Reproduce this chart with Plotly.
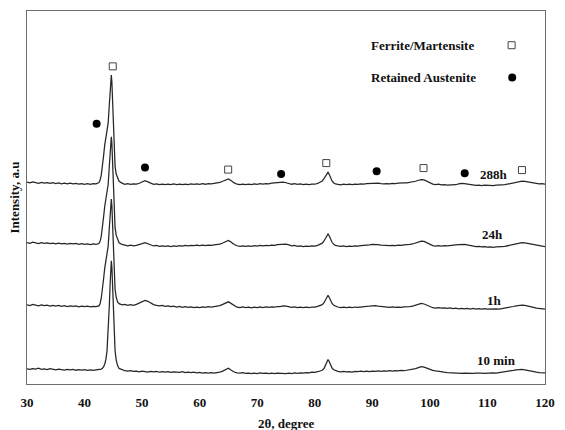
import plotly.graph_objects as go

# 2-theta sampling positions (degrees); denser around the sharp reflections
two_theta = [
    30.0, 30.5, 31.0, 31.5, 32.0, 32.5, 33.0, 33.5, 34.0, 34.5,
    35.0, 35.5, 36.0, 36.5, 37.0, 37.5, 38.0, 38.5, 39.0, 39.5,
    40.0, 40.5, 41.0, 41.5, 42.0, 42.5,
    42.7, 42.9, 43.1, 43.3, 43.5, 43.7, 43.9, 44.1, 44.3, 44.45,
    44.55, 44.65, 44.75, 44.85, 45.0, 45.15, 45.3, 45.5, 45.75,
    46.0, 46.5, 47.0, 47.5, 48.0, 48.5, 49.0, 49.5, 50.0, 50.5,
    51.0, 51.5, 52.0, 52.5, 53.0, 53.5, 54.0, 54.5, 55.0, 55.5,
    56.0, 56.5, 57.0, 57.5, 58.0, 58.5, 59.0, 59.5, 60.0, 60.5,
    61.0, 61.5, 62.0, 62.5, 63.0, 63.5, 64.0, 64.5, 65.0, 65.5,
    66.0, 66.5, 67.0, 67.5, 68.0, 68.5, 69.0, 69.5, 70.0, 70.5,
    71.0, 71.5, 72.0, 72.5, 73.0, 73.5, 74.0, 74.5, 75.0, 75.5,
    76.0, 76.5, 77.0, 77.5, 78.0, 78.5, 79.0, 79.5, 80.0, 80.5,
    81.0,
    81.3, 81.6, 81.9, 82.1, 82.3, 82.5, 82.7, 83.0, 83.3, 83.6,
    84.0, 84.5, 85.0, 85.5, 86.0, 86.5, 87.0, 87.5, 88.0, 88.5,
    89.0, 89.5, 90.0, 90.5, 91.0, 91.5, 92.0, 92.5, 93.0, 93.5,
    94.0, 94.5, 95.0, 95.5, 96.0, 96.5, 97.0, 97.5, 98.0, 98.5,
    99.0, 99.5, 100.0, 100.5, 101.0, 101.5, 102.0, 102.5, 103.0, 103.5,
    104.0, 104.5, 105.0, 105.5, 106.0, 106.5, 107.0, 107.5, 108.0, 108.5,
    109.0, 109.5, 110.0, 110.5, 111.0, 111.5, 112.0, 112.5, 113.0, 113.5,
    114.0, 114.5, 115.0, 115.5, 116.0, 116.5, 117.0, 117.5, 118.0, 118.5,
    119.0, 119.5, 120.0,
]

# Intensity (a.u., patterns stacked with vertical offsets)
int_10min = [
    15.2, 14.6, 15.5, 14.9, 15.8, 14.7, 15.1, 14.4, 15.3, 14.8,
    14.2, 15.0, 14.5, 13.9, 14.7, 14.1, 14.6, 13.8, 14.3, 13.9,
    14.5, 13.7, 14.2, 13.6, 14.1, 14.4,
    14.6, 15.0, 15.8, 17.2, 19.8, 24.5, 33.0, 50.0, 78.0, 101.0,
    115.5, 123.6, 117.0, 99.0, 70.0, 47.0, 33.5, 24.0, 18.2,
    15.6, 14.2, 13.3, 12.9, 13.4, 12.6, 13.0, 12.2, 12.8, 12.4,
    11.9, 12.6, 12.1, 12.7, 11.8, 12.3, 11.9, 12.5, 11.7, 12.2,
    12.0, 11.6, 12.3, 11.5, 11.9, 11.3, 11.8, 11.1, 11.6, 11.0,
    11.4, 10.9, 11.3, 11.0, 11.5, 11.8, 12.9, 14.6, 15.8, 13.8,
    12.0, 11.2, 10.8, 11.3, 10.6, 11.0, 10.4, 10.9, 10.5, 11.1,
    10.6, 10.9, 10.3, 10.8, 10.5, 11.0, 10.6, 10.9, 10.4, 10.8,
    10.5, 11.1, 10.7, 11.2, 10.9, 11.5, 11.2, 11.8, 11.6, 12.3,
    12.9,
    13.8, 15.5, 19.5, 22.8, 24.6, 22.5, 19.4, 16.0, 14.2, 13.2,
    12.6, 12.2, 12.7, 12.1, 12.5, 12.0, 12.6, 12.3, 12.8, 12.4,
    12.9, 12.5, 13.0, 12.6, 13.1, 12.7, 13.2, 12.8, 13.3, 12.9,
    13.4, 13.1, 13.6, 13.3, 13.8, 14.0, 14.6, 15.4, 16.4, 17.3,
    16.9, 15.6, 14.5, 13.6, 13.1, 12.5, 12.2, 11.8, 11.5, 11.2,
    11.0, 10.8, 10.9, 10.6, 10.8, 10.5, 10.9, 10.6, 10.8, 10.5,
    10.9, 10.7, 11.0, 10.8, 11.1, 11.0, 11.4, 11.3, 11.8, 12.2,
    12.9, 13.6, 14.2, 14.7, 14.6, 14.2, 13.5, 12.8, 12.2, 11.8,
    11.5, 11.4, 11.2,
]

int_1h = [
    79.4, 78.6, 79.8, 79.0, 78.3, 79.3, 78.5, 79.1, 78.2, 78.9,
    78.0, 78.7, 77.9, 78.5, 77.6, 78.4, 77.8, 78.3, 77.4, 78.1,
    77.5, 78.0, 77.3, 77.9, 77.6, 78.3,
    80.5, 86.0, 94.0, 105.0, 116.0, 123.0, 128.5, 138.0, 156.0, 172.0,
    181.0, 185.5, 178.5, 161.0, 131.0, 110.0, 95.0, 87.0, 82.0,
    80.6, 79.4, 79.9, 78.8, 79.5, 78.9, 79.8, 80.9, 82.6, 83.8,
    82.9, 81.2, 79.6, 78.9, 78.3, 78.9, 77.8, 78.4, 77.5, 78.1,
    77.2, 77.8, 76.9, 77.6, 76.8, 77.3, 76.5, 77.1, 76.7, 77.3,
    76.8, 77.5, 77.1, 77.6, 77.9, 78.6, 79.8, 81.5, 82.4, 80.6,
    78.4, 77.0, 76.6, 77.2, 76.5, 77.0, 76.4, 77.1, 76.7, 77.2,
    76.6, 77.3, 76.8, 77.4, 77.0, 77.7, 77.6, 78.3, 78.1, 77.4,
    76.9, 77.3, 76.6, 77.1, 76.5, 77.0, 76.6, 77.2, 77.0, 77.8,
    78.6,
    79.6, 81.5, 85.2, 88.0, 89.0, 87.0, 84.0, 80.8, 78.9, 77.8,
    77.2, 76.6, 77.1, 76.5, 77.0, 76.6, 77.2, 76.9, 77.4, 77.3,
    77.9, 78.0, 78.4, 78.5, 78.1, 77.8, 77.2, 77.5, 76.9, 77.3,
    76.8, 77.2, 76.9, 77.4, 77.2, 77.6, 78.0, 78.9, 80.0, 80.8,
    80.2, 78.8, 77.4, 76.5, 76.2, 76.6, 76.0, 76.4, 75.8, 76.2,
    75.6, 76.0, 75.4, 75.9, 75.3, 75.8, 75.2, 75.7, 75.1, 75.6,
    75.0, 75.5, 75.1, 75.4, 75.0, 75.3, 75.2, 75.6, 75.9, 76.4,
    77.0, 77.7, 78.3, 78.8, 79.1, 78.9, 78.4, 77.6, 76.8, 76.1,
    75.6, 75.3, 75.0,
]

int_24h = [
    141.8, 141.1, 142.2, 141.4, 140.8, 141.7, 141.0, 141.6, 140.7, 141.3,
    140.5, 141.2, 140.6, 141.0, 140.2, 140.9, 140.4, 140.9, 140.1, 140.7,
    140.0, 140.6, 139.8, 140.4, 140.1, 140.8,
    143.0, 148.0, 156.0, 167.0, 178.0, 185.0, 190.0, 200.0, 218.0, 234.0,
    243.0, 247.8, 241.0, 223.0, 193.0, 172.0, 157.0, 149.0, 144.0,
    141.6, 139.9, 139.3, 138.6, 139.2, 138.5, 139.0, 139.6, 140.8, 141.8,
    140.6, 139.3, 138.4, 138.9, 138.1, 138.6, 137.9, 138.5, 137.8, 138.4,
    138.0, 138.7, 138.2, 138.9, 138.5, 139.1, 138.7, 139.2, 138.8, 139.3,
    138.7, 139.2, 138.9, 139.4, 139.6, 140.3, 141.4, 143.1, 144.0, 142.2,
    139.9, 138.6, 138.0, 138.6, 137.9, 138.5, 138.0, 138.7, 138.3, 138.9,
    138.5, 139.0, 138.7, 139.3, 139.1, 139.7, 140.0, 140.6, 140.2, 139.4,
    138.6, 138.9, 138.1, 138.5, 137.8, 138.3, 137.9, 138.4, 138.2, 139.0,
    140.0,
    141.2, 143.4, 147.0, 149.6, 150.5, 148.6, 145.6, 142.1, 140.0, 138.9,
    138.4, 137.9, 138.5, 137.8, 138.3, 137.9, 138.4, 138.2, 138.8, 138.9,
    139.4, 139.6, 140.1, 140.2, 139.8, 139.3, 138.9, 139.2, 138.7, 139.1,
    138.8, 139.3, 139.0, 139.5, 139.4, 139.9, 140.4, 141.3, 142.5, 143.3,
    143.0, 141.6, 140.0, 138.8, 138.3, 138.7, 138.2, 138.8, 138.5, 139.0,
    139.1, 139.6, 139.7, 140.1, 140.0, 139.5, 138.9, 138.4, 137.8, 137.9,
    137.4, 137.8, 137.2, 137.6, 137.1, 137.5, 137.3, 137.8, 138.0, 138.6,
    139.2, 139.9, 140.6, 141.2, 141.7, 141.6, 141.1, 140.4, 139.6, 139.0,
    138.5, 138.2, 137.8,
]

int_288h = [
    202.4, 201.6, 202.7, 201.9, 201.2, 202.1, 201.4, 202.0, 201.1, 201.8,
    200.9, 201.6, 200.8, 201.5, 200.6, 201.3, 200.7, 201.2, 200.5, 201.0,
    200.3, 200.9, 200.2, 200.8, 200.6, 201.9,
    204.5, 209.5, 217.5, 228.5, 239.5, 246.5, 251.5, 261.5, 279.5, 295.5,
    304.5, 309.9, 302.5, 284.5, 254.5, 233.5, 218.5, 210.5, 205.5,
    203.2, 201.4, 200.3, 200.9, 200.1, 200.7, 200.4, 201.3, 202.6, 203.9,
    202.7, 201.1, 200.2, 200.7, 199.9, 200.5, 199.8, 200.4, 199.9, 200.6,
    200.0, 200.5, 199.8, 200.4, 199.9, 200.6, 200.1, 200.7, 200.2, 200.8,
    200.3, 200.9, 200.6, 201.2, 201.5, 202.2, 203.3, 204.9, 205.7, 203.9,
    201.6, 200.3, 199.9, 200.5, 199.8, 200.4, 200.0, 200.6, 200.2, 200.9,
    200.4, 201.0, 200.7, 201.3, 201.2, 201.8, 202.1, 202.4, 201.8, 201.0,
    200.3, 200.8, 200.1, 200.6, 199.9, 200.4, 200.0, 200.5, 200.3, 201.1,
    202.2,
    203.6, 205.9, 209.3, 211.5, 212.3, 210.3, 207.1, 203.6, 201.6, 200.6,
    200.2, 199.7, 200.3, 199.8, 200.4, 199.9, 200.5, 200.1, 200.6, 200.4,
    201.0, 201.2, 201.6, 201.8, 201.5, 201.0, 200.6, 201.0, 200.7, 201.2,
    200.9, 201.4, 201.2, 201.7, 201.6, 202.0, 202.5, 203.3, 204.3, 205.0,
    204.7, 203.3, 201.7, 200.5, 200.0, 200.3, 199.6, 199.9, 199.3, 199.6,
    199.2, 199.8, 200.6, 201.2, 201.0, 200.4, 199.9, 199.5, 199.1, 199.4,
    198.9, 199.3, 198.9, 199.2, 198.8, 199.3, 199.1, 199.6, 199.8, 200.4,
    201.0, 201.7, 202.3, 202.9, 203.3, 203.2, 202.7, 202.0, 201.4, 200.9,
    200.6, 200.8, 200.5,
]

patterns = [int_10min, int_1h, int_24h, int_288h]
pattern_names = ["10 min", "1h", "24h", "288h"]
for p in patterns:
    assert len(p) == len(two_theta)

# Sample-label anchor points (2theta, intensity)
label_x = [111.6, 111.3, 110.9, 111.2]
label_y = [24.0, 84.0, 149.7, 209.7]

# Phase reflection markers
ferrite_x = [44.9, 64.95, 82.0, 98.9, 116.0]
ferrite_y = [318.5, 215.0, 221.5, 216.5, 214.5]
austenite_x = [42.1, 50.5, 74.15, 90.75, 106.05]
austenite_y = [261.0, 217.2, 210.5, 213.2, 211.4]

# Key entries (text on the left, symbol on the right)
key_labels = ["Ferrite/Martensite", "Retained Austenite"]
key_text_x = [89.5, 89.5]
key_symbol_x = [114.2, 114.3]
key_y = [339.7, 307.3]

serif = "Liberation Serif"
line_col = "#262626"
text_col = "#111111"

fig = go.Figure()

for name, vals in zip(pattern_names, patterns):
    fig.add_trace(go.Scatter(
        x=two_theta, y=vals, mode="lines", name=name,
        line=dict(color=line_col, width=1.25), showlegend=False,
        hoverinfo="skip",
    ))

fig.add_trace(go.Scatter(
    x=ferrite_x + [key_symbol_x[0]], y=ferrite_y + [key_y[0]],
    mode="markers", showlegend=False,
    marker=dict(symbol="square-open", size=7, color="#444444",
                line=dict(width=1, color="#444444")),
))
fig.add_trace(go.Scatter(
    x=austenite_x + [key_symbol_x[1]], y=austenite_y + [key_y[1]],
    mode="markers", showlegend=False,
    marker=dict(symbol="circle", size=8, color="#000000"),
))

for name, lx, ly in zip(pattern_names, label_x, label_y):
    fig.add_annotation(x=lx, y=ly, text=name, showarrow=False,
                       xanchor="center", yanchor="middle",
                       font=dict(family=serif, size=13, color=text_col,
                                 weight="bold"))

for txt, tx, ty in zip(key_labels, key_text_x, key_y):
    fig.add_annotation(x=tx, y=ty, text=txt, showarrow=False,
                       xanchor="left", yanchor="middle",
                       font=dict(family=serif, size=13, color=text_col,
                                 weight="bold"))

# Axis titles
fig.add_annotation(xref="paper", yref="paper", x=0.5, y=0, yshift=-39,
                   text="2θ, degree", showarrow=False,
                   xanchor="center", yanchor="middle",
                   font=dict(family=serif, size=13, color=text_col,
                             weight="bold"))
fig.add_annotation(xref="paper", yref="paper", x=0, xshift=-13, y=0.5,
                   text="Intensity, a.u", showarrow=False, textangle=-90,
                   xanchor="center", yanchor="middle",
                   font=dict(family=serif, size=13, color=text_col,
                             weight="bold"))

frame = dict(showline=True, linecolor="#6e6e6e", linewidth=1, mirror=True,
             showgrid=False, zeroline=False)

fig.update_xaxes(range=[30, 120], tickvals=[30, 40, 50, 60, 70, 80, 90, 100, 110, 120],
                 ticks="", ticklabelstandoff=6,
                 tickfont=dict(family=serif, size=13, color=text_col, weight="bold"),
                 **frame)
fig.update_yaxes(range=[0, 374], showticklabels=False, ticks="", **frame)

fig.update_layout(
    width=565, height=430,
    margin=dict(l=27, r=10, t=10, b=46),
    paper_bgcolor="white", plot_bgcolor="white",
)

fig.write_html("out.html")
